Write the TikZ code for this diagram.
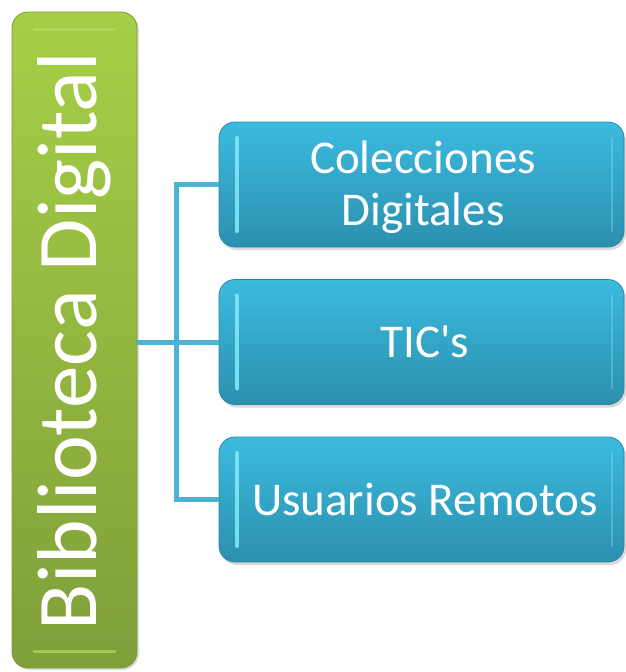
\documentclass[tikz,border=0pt]{standalone}
\usepackage{fontspec}
\setmainfont{Carlito}
\usetikzlibrary{shadows}
\definecolor{gTop}{HTML}{A6CF47}
\definecolor{gBot}{HTML}{7F9F39}
\definecolor{gEdge}{HTML}{7A9A35}
\definecolor{gHi}{HTML}{B5DA5E}
\definecolor{bTop}{HTML}{3BBBDF}
\definecolor{bBot}{HTML}{2C8FAE}
\definecolor{bEdge}{HTML}{2A88A6}
\definecolor{link}{HTML}{4DB3D2}
\definecolor{hiBlue}{HTML}{7FE6FA}
\tikzset{
  greenbox/.style={draw=gEdge, line width=0.8pt, rounded corners=16pt,
    top color=gTop, bottom color=gBot,
    drop shadow={shadow xshift=2pt, shadow yshift=-2pt, opacity=0.25},
    minimum width=125pt, minimum height=656pt, inner sep=0pt,
    path picture={
      \draw[gHi, line width=3pt, line cap=round, opacity=0.8]
        ([xshift=22pt,yshift=-17pt]path picture bounding box.north west) --
        ([xshift=-22pt,yshift=-17pt]path picture bounding box.north east);
      \draw[gHi, line width=3pt, line cap=round, opacity=0.7]
        ([xshift=22pt,yshift=17pt]path picture bounding box.south west) --
        ([xshift=-22pt,yshift=17pt]path picture bounding box.south east);
    }},
  bluebox/.style={draw=bEdge, line width=0.8pt, rounded corners=16pt,
    top color=bTop, bottom color=bBot,
    drop shadow={shadow xshift=2pt, shadow yshift=-3pt, opacity=0.3},
    minimum width=405pt, minimum height=125pt, inner sep=0pt,
    text=white, font=\fontsize{47}{52}\selectfont, align=center,
    path picture={
      \draw[hiBlue, line width=4pt, line cap=round, opacity=0.9]
        ([xshift=18pt,yshift=-16pt]path picture bounding box.north west) --
        ([xshift=18pt,yshift=16pt]path picture bounding box.south west);
      \draw[hiBlue, line width=2pt, line cap=round, opacity=0.35]
        ([xshift=-12pt,yshift=-16pt]path picture bounding box.north east) --
        ([xshift=-12pt,yshift=16pt]path picture bounding box.south east);
    }},
  linkline/.style={draw=link, line width=5pt}
}
\begin{document}
\begin{tikzpicture}[x=1pt,y=-1pt]
\useasboundingbox (0,0) rectangle (625,672);
\node[greenbox] (bd) at (74.5,340) {};
\node[text=white, rotate=90, font=\fontsize{85}{90}\selectfont] (bdt) at (74.5,341) {Biblioteca Digital};
\node[bluebox] (c1) at (421.5,184.5) {};
\node[text=white, font=\fontsize{47}{52}\selectfont, align=center] (c1t) at (423,187) {Colecciones\\Digitales};
\node[bluebox] (c2) at (421.5,342) {};
\node[text=white, font=\fontsize{47}{52}\selectfont] (c2t) at (425,342) {TIC\textquotesingle s};
\node[bluebox] (c3) at (421.5,499.5) {};
\node[text=white, font=\fontsize{47}{52}\selectfont] (c3t) at (425,499.5) {Usuarios Remotos};
\coordinate (jn) at (177,342);
\draw[linkline] (bd.east |- jn) -- (c2.west);
\draw[linkline, line join=miter] (c1.west) -- ++(-42,0) |- (c3.west);
\end{tikzpicture}
\end{document}
